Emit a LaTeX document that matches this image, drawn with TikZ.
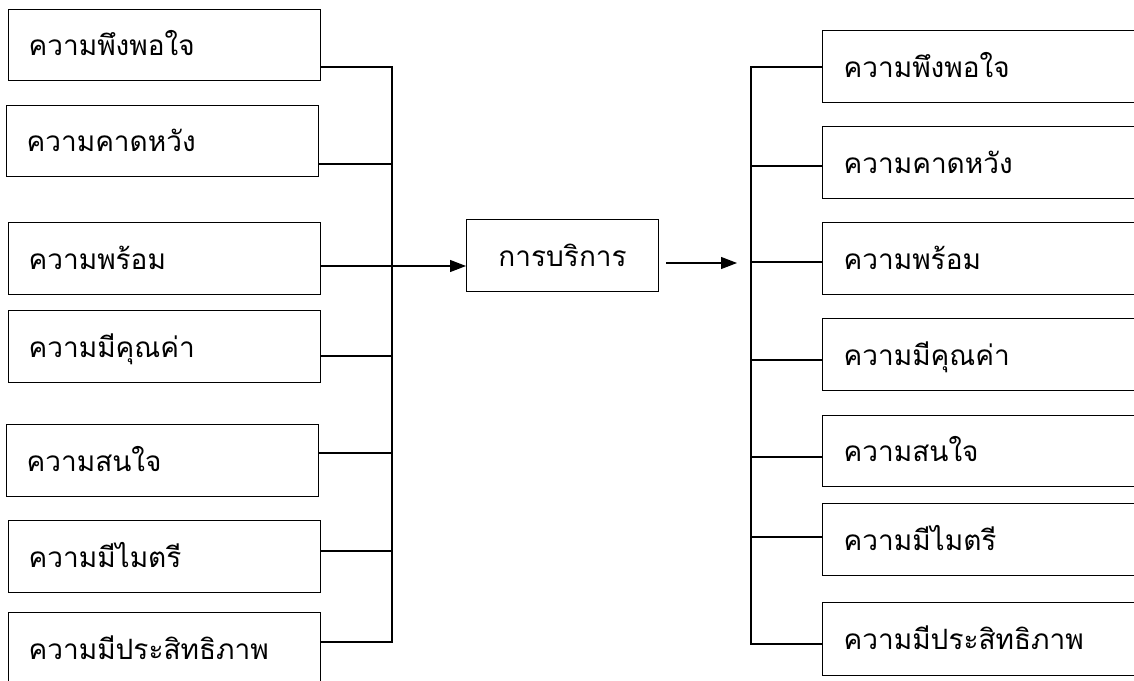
\documentclass[tikz,border=0pt]{standalone}
\usepackage{fontspec}
\newfontfamily\thaifont[Script=Thai]{Loma}
\usetikzlibrary{arrows.meta}
\tikzset{
  lbox/.style={draw, line width=1.2pt, anchor=north west, minimum height=72pt,
    text height=21pt, text depth=0pt, inner xsep=20pt, inner ysep=0pt,
    text width=272pt, align=left, font=\thaifont\fontsize{28}{32}\selectfont},
  rbox/.style={lbox, text width=271pt, inner xsep=21pt},
  mbox/.style={lbox, text width=152pt, align=center},
  conn/.style={line width=1.2pt},
  arr/.style={line width=1.2pt, -{Triangle[length=16pt,width=12pt]}}
}
\begin{document}
\begin{tikzpicture}[x=1pt,y=-1pt]
\useasboundingbox (0,0) rectangle (1134,680);
\clip (0,0) rectangle (1134,680);
% left boxes
\node[lbox, minimum height=71pt] (L1) at (8,9) {ความพึงพอใจ};
\node[lbox, minimum height=71pt] (L2) at (6,105) {ความคาดหวัง};
\node[lbox] (L3) at (8,222) {ความพร้อม};
\node[lbox] (L4) at (8,310) {ความมีคุณค่า};
\node[lbox] (L5) at (6,424) {ความสนใจ};
\node[lbox] (L6) at (8,520) {ความมีไมตรี};
\node[lbox, minimum height=72pt] (L7) at (8,612) {ความมีประสิทธิภาพ};
% middle
\node[mbox] (M) at (466,219) {การบริการ};
% right boxes
\node[rbox] (R1) at (822,30) {ความพึงพอใจ};
\node[rbox] (R2) at (822,126) {ความคาดหวัง};
\node[rbox] (R3) at (822,222) {ความพร้อม};
\node[rbox] (R4) at (822,318) {ความมีคุณค่า};
\node[rbox, minimum height=71pt] (R5) at (822,415) {ความสนใจ};
\node[rbox] (R6) at (822,503) {ความมีไมตรี};
\node[rbox, minimum height=73pt] (R7) at (822,602) {ความมีประสิทธิภาพ};
% left junctions
\coordinate (a1) at (392,67);
\coordinate (a2) at (392,164);
\coordinate (a3) at (392,266);
\coordinate (a4) at (392,356);
\coordinate (a5) at (392,453);
\coordinate (a6) at (392,551);
\coordinate (a7) at (392,642);
\draw[conn] (L1.east |- a1) -- (a1) -- (a7) -- (L7.east |- a7);
\foreach \i in {2,4,5,6} \draw[conn] (L\i.east |- a\i) -- (a\i);
\draw[arr] (L3.east |- a3) -- (M.west |- a3);
% right junctions
\coordinate (b1) at (751,67);
\coordinate (b2) at (751,166);
\coordinate (b3) at (751,262);
\coordinate (b4) at (751,360);
\coordinate (b5) at (751,457);
\coordinate (b6) at (751,537);
\coordinate (b7) at (751,644);
\draw[conn] (R1.west |- b1) -- (b1) -- (b7) -- (R7.west |- b7);
\foreach \i in {2,3,4,5,6} \draw[conn] (b\i) -- (R\i.west |- b\i);
\coordinate (c1) at (666,263);
\coordinate (c2) at (737,263);
\draw[arr] (c1) -- (c2);
\end{tikzpicture}
\end{document}
